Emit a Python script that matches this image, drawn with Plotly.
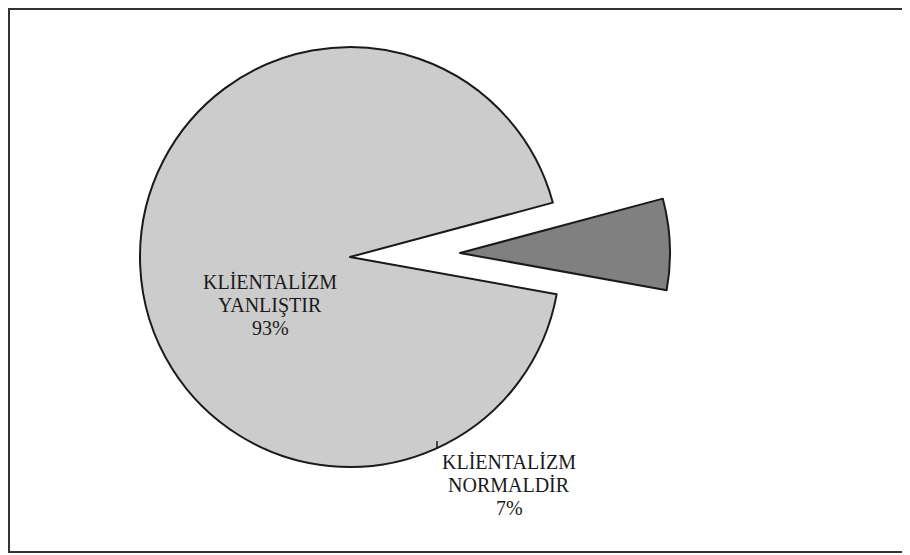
import plotly.graph_objects as go

# slice data (pulled slice first so the rotation anchors it on the right)
labels = ["KLİENTALİZM<br>NORMALDİR", "KLİENTALİZM<br>YANLIŞTIR"]
values = [7, 93]
pct_text = ["7%", "93%"]

# the page puts the figure 8px in from the top-left corner
OFF = 8
W, H = 910 - OFF, 555 - OFF
R = 210                      # pie radius in px
main_center = (350, 257)     # page px, from top-left
pull_center = (460, 253)     # where the pulled slice's apex sits
LINE_GAP = 23                # px between label lines


def px_x(x):
    return (x - OFF) / W


def px_y(y):
    return 1 - (y - OFF) / H


def domain(cx, cy):
    return dict(x=[px_x(cx - R), px_x(cx + R)], y=[px_y(cy + R), px_y(cy - R)])


clear = "rgba(0,0,0,0)"
edge = "#1a1a1a"
common = dict(
    labels=labels, values=values, sort=False, direction="counterclockwise",
    rotation=75, textinfo="none", hoverinfo="label+percent", showlegend=False,
)

fig = go.Figure()
# big slice, drawn around the main centre
fig.add_trace(go.Pie(
    **common, domain=domain(*main_center),
    marker=dict(colors=[clear, "#cccccc"],
                line=dict(color=[clear, edge], width=[0, 2])),
))
# small slice, drawn pulled out to the right
fig.add_trace(go.Pie(
    **common, domain=domain(*pull_center),
    marker=dict(colors=["#808080", clear],
                line=dict(color=[edge, clear], width=[2, 0])),
))

font = dict(family="Liberation Serif, Times New Roman, serif", size=20, color="#1a1a1a")
label_pos = [(509, 485), (270, 305)]   # centre of each label block
for lab, pct, (lx, ly) in zip(labels, pct_text, label_pos):
    lines = lab.split("<br>") + [pct]
    top = ly - LINE_GAP * (len(lines) - 1) / 2
    for i, line in enumerate(lines):
        fig.add_annotation(
            x=px_x(lx), y=px_y(top + i * LINE_GAP), xref="paper", yref="paper",
            xanchor="center", yanchor="middle",
            text=line, showarrow=False, font=font,
        )

# small leader tick at the pie edge
fig.add_shape(type="line", xref="paper", yref="paper",
              x0=px_x(437), x1=px_x(437), y0=px_y(441), y1=px_y(449),
              line=dict(color=edge, width=1.5))
# chart frame
fig.add_shape(type="rect", xref="paper", yref="paper",
              x0=px_x(OFF + 1), x1=1.01, y0=px_y(552), y1=px_y(OFF + 1),
              line=dict(color="#333333", width=2))

fig.update_layout(
    width=W, height=H, margin=dict(l=0, r=0, t=0, b=0),
    paper_bgcolor="white", plot_bgcolor="white",
)

fig.write_html("out.html")
